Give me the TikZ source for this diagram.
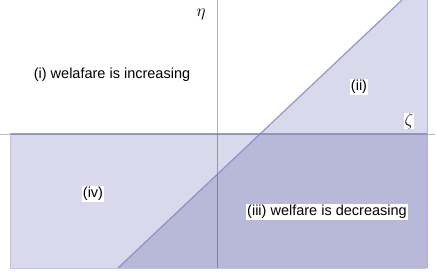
\documentclass[tikz,border=0pt]{standalone}
\usepackage{fontspec}
\setmainfont{Liberation Sans}
\definecolor{lightreg}{RGB}{217,217,235}
\definecolor{darkreg}{RGB}{184,184,216}
\definecolor{edgecol}{RGB}{135,135,200}
\definecolor{axiscol}{RGB}{185,185,185}
\begin{document}
\begin{tikzpicture}[x=1pt,y=1pt,
  lbl/.style={fill=white,inner sep=0.8pt,font=\fontsize{14.5}{16}\selectfont},
  greek/.style={inner sep=0.5pt,font=\fontsize{16}{18}\selectfont}]
\useasboundingbox (0,0) rectangle (436,271);
% regions
\coordinate (R1) at (10,3);
\coordinate (R2) at (427,137);
\coordinate (D1) at (118,3);
\coordinate (D2) at (402,271);
\coordinate (D3) at (427,271);
\coordinate (D4) at (427,3);
\coordinate (X) at (260,137);
\fill[lightreg] (R1) rectangle (R2);
\fill[lightreg] (D1) -- (D2) -- (D3) -- (D4) -- cycle;
\fill[darkreg] (D1) -- (X) -- (R2) -- (D4) -- cycle;
% axes
\coordinate (AxL) at (0,137);
\coordinate (AxR) at (435,137);
\coordinate (AyB) at (217,3);
\coordinate (AyT) at (217,271);
\draw[axiscol,line width=0.8pt] (AxL) -- (AxR);
\draw[black,opacity=0.3,line width=0.8pt] (AyB) -- (AyT);
% edges
\draw[edgecol,line width=1.2pt,opacity=0.85] (D1) -- (D2);
\draw[edgecol!85!gray,line width=2pt,opacity=0.8] (10,137) -- (R2);
\draw[edgecol,line width=0.6pt,opacity=0.6] (D4) -- (D3);
\draw[lightreg!70!edgecol,line width=0.6pt] (R1) -- (10,137);
\draw[lightreg!70!edgecol,line width=0.6pt] (R1) -- (D4);
% labels
\node[lbl] (i) at (112,196) {(i) welafare is increasing};
\node[lbl] (ii) at (359,184) {(ii)};
\node[lbl] (iii) at (327,59) {(iii) welfare is decreasing};
\node[lbl] (iv) at (93,77) {(iv)};
\node[greek] (eta) at (201,257) {$\eta$};
\node[greek,fill=white] (zeta) at (409,150) {$\zeta$};
\end{tikzpicture}
\end{document}
